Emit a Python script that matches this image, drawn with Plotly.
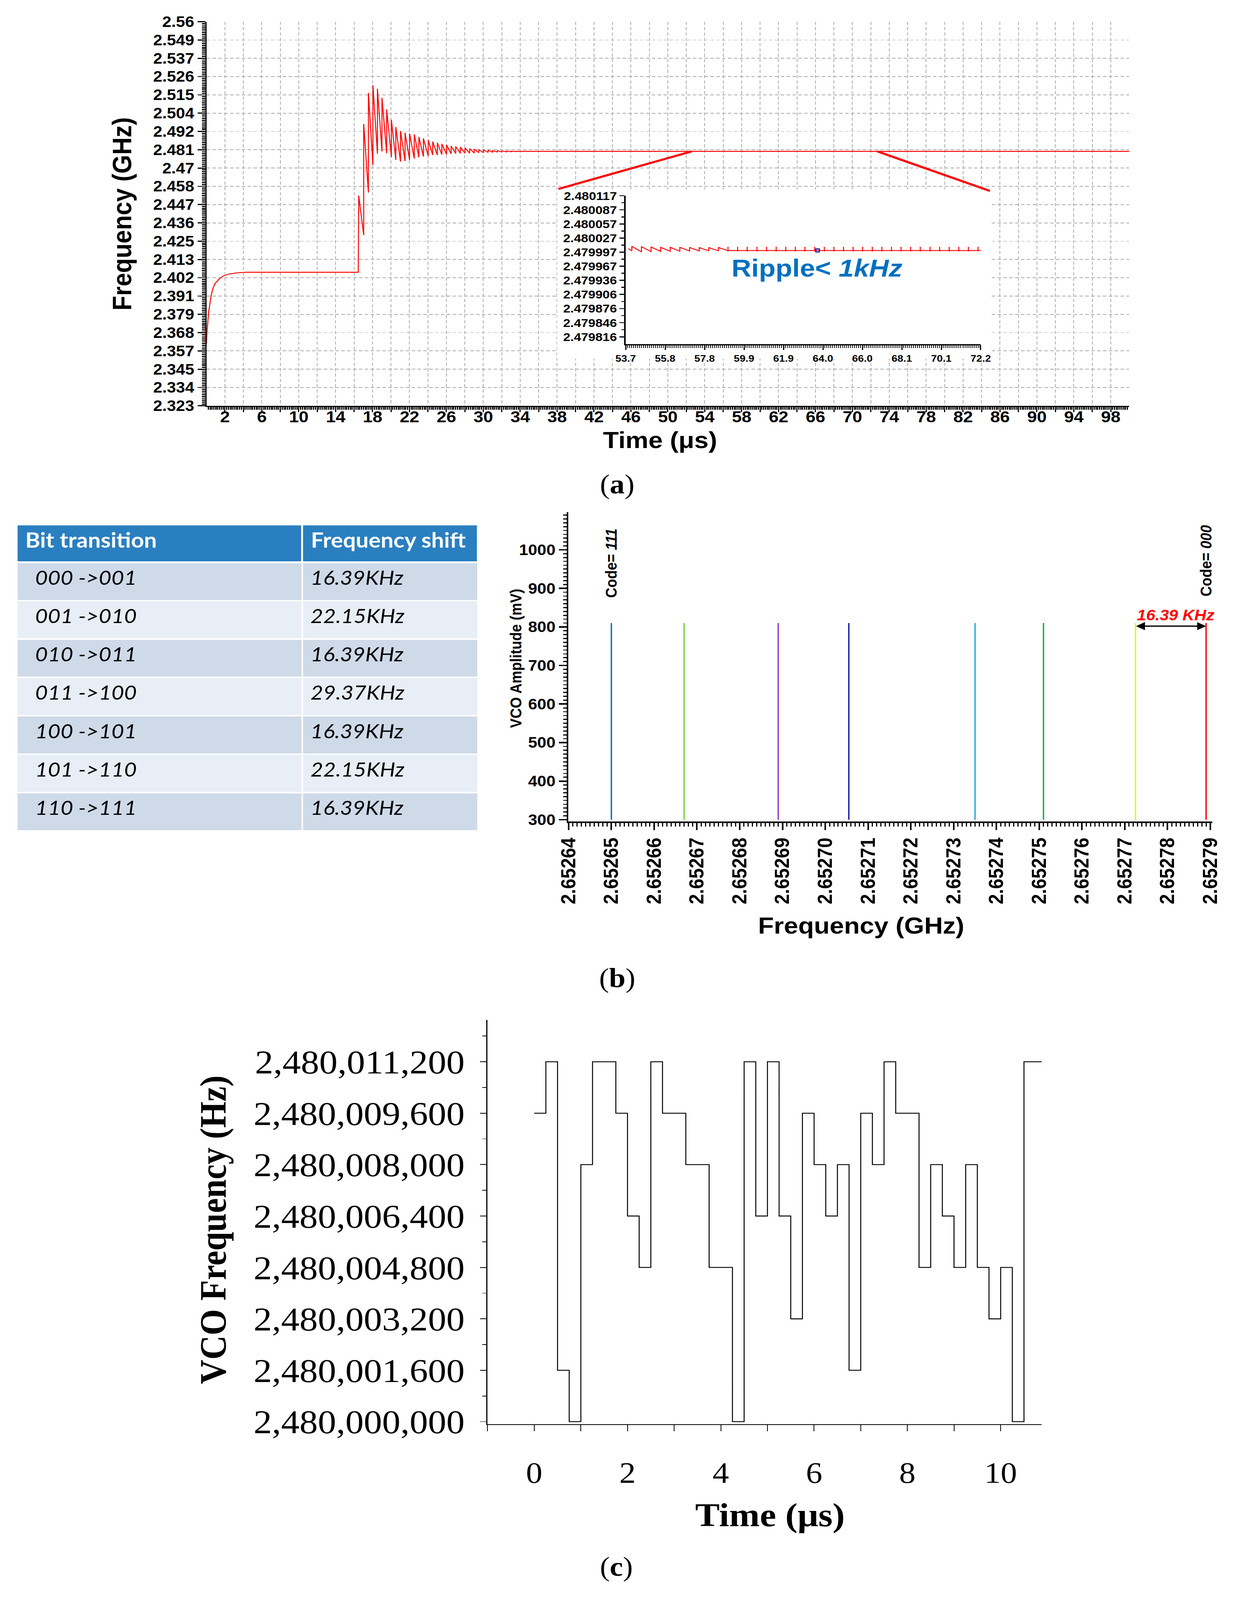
import plotly.graph_objects as go

W, H = 3157, 4503

# ------------------------------------------------------------------ (a) main transient
rise_t = [0.0, 0.03, 0.07, 0.12, 0.16, 0.23, 0.31, 0.52, 0.73, 0.95, 1.37, 1.79, 2.43, 3.27, 4.32, 16.45]
rise_f = [2.3616, 2.3669, 2.3698, 2.3730, 2.3760, 2.3807, 2.3835, 2.3914, 2.3959, 2.3986,
          2.4012, 2.4030, 2.4043, 2.4050, 2.4054, 2.4054]
tooth_t = [16.50, 17.04, 17.55, 18.04, 18.53, 19.02, 19.53, 20.04, 20.52, 21.03, 21.52, 22.01,
           22.52, 23.02, 23.51, 24.03, 24.52, 25.02, 25.51, 26.02, 26.52, 27.01, 27.52, 28.01,
           28.52, 29.02, 29.52, 30.02, 30.52, 31.01, 31.52, 32.01, 32.52, 33.02]
tooth_peak = [2.4527, 2.4969, 2.5161, 2.5208, 2.5186, 2.5130, 2.5059, 2.4995, 2.4950, 2.4926,
              2.4915, 2.4910, 2.4905, 2.4889, 2.4880, 2.4869, 2.4860, 2.4853, 2.4846, 2.4840,
              2.4833, 2.4830, 2.4826, 2.4821, 2.4817, 2.4814, 2.4811, 2.4809, 2.4807, 2.4805,
              2.4804, 2.4803, 2.4802, 2.4801]
tooth_trough = [2.4283, 2.4546, 2.4715, 2.4785, 2.4799, 2.4788, 2.4765, 2.4747, 2.4737, 2.4740,
                2.4747, 2.4756, 2.4763, 2.4768, 2.4772, 2.4777, 2.4777, 2.4780, 2.4781, 2.4785,
                2.4787, 2.4788, 2.4788, 2.4789, 2.4790, 2.4792, 2.4792, 2.4794, 2.4795, 2.4796,
                2.4797, 2.4797, 2.4798, 2.4799]
tail_t = [33.52, 100.0]
tail_f = [2.4800, 2.4800]

link_left_t = [38.14, 52.6]
link_left_f = [2.4568, 2.4800]
link_right_t = [72.7, 84.9]
link_right_f = [2.4800, 2.4556]

a_y_labels = ["2.323", "2.334", "2.345", "2.357", "2.368", "2.379", "2.391", "2.402", "2.413",
              "2.425", "2.436", "2.447", "2.458", "2.47", "2.481", "2.492", "2.504", "2.515",
              "2.526", "2.537", "2.549", "2.56"]
a_x_labels = ["2", "6", "10", "14", "18", "22", "26", "30", "34", "38", "42", "46", "50", "54",
              "58", "62", "66", "70", "74", "78", "82", "86", "90", "94", "98"]

# ------------------------------------------------------------------ (a) inset ripple
ins_start_t = [53.84, 54.02]
ins_start_f = [2.4800040, 2.4799995]
ins_tooth_t = [54.02, 54.52, 55.02, 55.52, 56.02, 56.52, 57.03, 57.53, 58.03, 58.53, 59.03, 59.53,
               60.03, 60.54, 61.04, 61.54, 62.04, 62.54, 63.04, 63.55, 64.05, 64.55, 65.05, 65.55,
               66.05, 66.55, 67.05, 67.55, 68.05, 68.55, 69.05, 69.56, 70.06, 70.56, 71.06, 71.56,
               72.06]
ins_peak = [2.4800089, 2.4800082, 2.4800077, 2.4800069, 2.4800069, 2.4800069, 2.4800064,
            2.4800062, 2.4800062, 2.4800064] + [2.4800080] * 27
ins_trough = [2.4799972, 2.4799977, 2.4799982, 2.4799985, 2.4799987, 2.4799990, 2.4799992,
              2.4799995, 2.4799995, 2.4799997] + [2.4799982] * 27
ins_base = 2.4800000
ins_end_t = 72.2
ins_saw_count = 10
ins_marker_t = [63.7]
ins_marker_f = [2.4800002]
ins_y_labels = ["2.479816", "2.479846", "2.479876", "2.479906", "2.479936", "2.479967",
                "2.479997", "2.480027", "2.480057", "2.480087", "2.480117"]
ins_x_labels = ["53.7", "55.8", "57.8", "59.9", "61.9", "64.0", "66.0", "68.1", "70.1", "72.2"]

# ------------------------------------------------------------------ (b) table
bit_transitions = ["000 ->001", "001 ->010", "010 ->011", "011 ->100", "100 ->101", "101 ->110", "110 ->111"]
freq_shifts = ["16.39KHz", "22.15KHz", "16.39KHz", "29.37KHz", "16.39KHz", "22.15KHz", "16.39KHz"]
table_header = ["Bit transition", "Frequency shift"]

# ------------------------------------------------------------------ (b) spectrum
spec_freq = [2.65265, 2.652667, 2.652689, 2.6527055, 2.652735, 2.652751, 2.6527725, 2.652789]
spec_amp = [810, 810, 810, 810, 810, 810, 810, 810]
spec_base = 300
spec_colors = ["#0070C0", "#78CE3E", "#8A3EC6", "#1A1A9E", "#20AAD4", "#00B050", "#F2F200", "#FF0000"]

# ------------------------------------------------------------------ (c) VCO steps
vco_t = [0.00, 0.25, 0.50, 0.75, 1.00, 1.25, 1.50, 1.75, 2.00, 2.25, 2.50, 2.75, 3.00, 3.25,
         3.50, 3.75, 4.00, 4.25, 4.50, 4.75, 5.00, 5.25, 5.50, 5.75, 6.00, 6.25, 6.50, 6.75,
         7.00, 7.25, 7.50, 7.75, 8.00, 8.25, 8.50, 8.75, 9.00, 9.25, 9.50, 9.75, 10.00, 10.25,
         10.50, 10.88]
vco_hz = [2480009600, 2480011200, 2480001600, 2480000000, 2480008000, 2480011200, 2480011200,
          2480009600, 2480006400, 2480004800, 2480011200, 2480009600, 2480009600, 2480008000,
          2480008000, 2480004800, 2480004800, 2480000000, 2480011200, 2480006400, 2480011200,
          2480006400, 2480003200, 2480009600, 2480008000, 2480006400, 2480008000, 2480001600,
          2480009600, 2480008000, 2480011200, 2480009600, 2480009600, 2480004800, 2480008000,
          2480006400, 2480004800, 2480008000, 2480004800, 2480003200, 2480004800, 2480000000,
          2480011200, 2480011200]
vco_ticks = [2480000000, 2480001600, 2480003200, 2480004800, 2480006400, 2480008000,
             2480009600, 2480011200]

# ================================================================== helpers
def px(x):
    return x / W


def py(y):
    return 1 - y / H


SANS = "Liberation Sans"
SERIF = "Liberation Serif"
GRID = "#ABABAB"

fig = go.Figure()

# ---- (a) main curve
main_t = list(rise_t)
main_f = list(rise_f)
for k, t in enumerate(tooth_t):
    nxt = tooth_t[k + 1] if k + 1 < len(tooth_t) else tail_t[0]
    main_t += [t, nxt]
    main_f += [tooth_peak[k], tooth_trough[k]]
main_t += tail_t
main_f += tail_f
fig.add_trace(go.Scatter(x=main_t, y=main_f, mode="lines", line=dict(color="#FF0000", width=2.5),
                         xaxis="x", yaxis="y", showlegend=False, hoverinfo="skip"))
for lt, lf in ((link_left_t, link_left_f), (link_right_t, link_right_f)):
    fig.add_trace(go.Scatter(x=lt, y=lf, mode="lines", line=dict(color="#FF0000", width=6),
                             xaxis="x", yaxis="y", showlegend=False, hoverinfo="skip"))

# ---- (a) inset
it = list(ins_start_t)
iff = list(ins_start_f)
for k, t in enumerate(ins_tooth_t):
    nxt = ins_tooth_t[k + 1] if k + 1 < len(ins_tooth_t) else ins_end_t
    if k < ins_saw_count:
        it += [t, t, nxt]
        iff += [iff[-1], ins_peak[k], ins_trough[k]]
    else:
        it += [t, t, t, t + 0.03, nxt]
        iff += [ins_peak[k], ins_trough[k], ins_base, ins_base, ins_base]
fig.add_trace(go.Scatter(x=it, y=iff, mode="lines", line=dict(color="#FF0000", width=2.5),
                         xaxis="x2", yaxis="y2", showlegend=False, hoverinfo="skip"))
fig.add_trace(go.Scatter(x=ins_marker_t, y=ins_marker_f, mode="markers",
                         marker=dict(symbol="square-open", size=9, color="#1F1FA0", line=dict(width=3)),
                         xaxis="x2", yaxis="y2", showlegend=False, hoverinfo="skip"))

# ---- (b) table
row_fill = ["#CFDAE9" if i % 2 == 0 else "#E8EEF6" for i in range(len(bit_transitions))]
fig.add_trace(go.Table(
    domain=dict(x=[px(14), px(1216)], y=[py(2350), py(1476)]),
    columnwidth=[741, 456],
    header=dict(values=["<b>\u00a0" + table_header[0] + "</b>", "<b>\u00a0" + table_header[1] + "</b>"],
                fill_color="#2A7FC0", align="left", height=106,
                line=dict(color="white", width=5),
                font=dict(family="Lato", size=58, color="white")),
    cells=dict(values=[["<i>\u00a0\u00a0\u00a0" + s + "</i>" for s in bit_transitions],
                       ["<i>\u00a0" + s + "</i>" for s in freq_shifts]],
               fill_color=[row_fill, row_fill], align="left", height=108,
               line=dict(color="white", width=4),
               font=dict(family="Lato", size=56, color="black")),
))

# ---- (b) spectrum
for f, a, c in zip(spec_freq, spec_amp, spec_colors):
    fig.add_trace(go.Scatter(x=[f, f], y=[spec_base, a], mode="lines", line=dict(color=c, width=3.5),
                             xaxis="x3", yaxis="y3", showlegend=False, hoverinfo="skip"))

# ---- (c) VCO steps
fig.add_trace(go.Scatter(x=vco_t, y=vco_hz, mode="lines", line=dict(color="black", width=2.5, shape="hv"),
                         xaxis="x4", yaxis="y4", showlegend=False, hoverinfo="skip"))

# ================================================================== axes
a_y_step = (2.56 - 2.323) / 21
a_y_vals = [2.323 + i * a_y_step for i in range(22)]
a_y_minor = [2.323 + j * a_y_step / 10 for j in range(211) if j % 10]
a_x_vals = [2 * i for i in range(1, 50)]
a_x_text = [a_x_labels[(i - 1) // 2] if i % 2 == 1 else "" for i in range(1, 50)]
a_x_minor = [0.2 * j for j in range(1, 500) if j % 10]

ins_y_vals = [2.479816 + i * (2.480117 - 2.479816) / 10 for i in range(11)]
ins_y_minor = [v + (2.480117 - 2.479816) / 20 for v in ins_y_vals[:-1]]
ins_x_vals = [53.7 + i * (72.2 - 53.7) / 9 for i in range(10)]
ins_x_minor = [53.7 + j * (72.2 - 53.7) / 180 for j in range(181) if j % 20]

axis_common = dict(showline=True, linecolor="black", zeroline=False, tickcolor="black")

fig.update_layout(
    width=W, height=H, margin=dict(l=0, r=0, t=0, b=0),
    paper_bgcolor="white", plot_bgcolor="white", showlegend=False, hovermode=False,
    xaxis=dict(axis_common, domain=[px(508.5), px(2913)], range=[0, 100], anchor="y",
               tickmode="array", tickvals=a_x_vals, ticktext=a_x_text,
               ticks="outside", ticklen=15, tickwidth=3, linewidth=3, ticklabelstandoff=-26,
               showgrid=True, gridcolor=GRID, gridwidth=2, griddash="9px,6px",
               tickfont=dict(family=SANS, size=45, color="black", weight="bold"),
               minor=dict(tickmode="array", tickvals=a_x_minor, ticks="outside", ticklen=8,
                          tickwidth=2.5, tickcolor="black", showgrid=False)),
    yaxis=dict(axis_common, domain=[py(1136.5), py(38.7)], range=[2.323, 2.56], anchor="x",
               tickmode="array", tickvals=a_y_vals, ticktext=a_y_labels,
               ticks="outside", ticklen=20, tickwidth=3, linewidth=3,
               showgrid=True, gridcolor=GRID, gridwidth=2, griddash="9px,6px",
               tickfont=dict(family=SANS, size=42, color="black", weight="bold"),
               minor=dict(tickmode="array", tickvals=a_y_minor, ticks="outside", ticklen=9,
                          tickwidth=2.5, tickcolor="black", showgrid=False)),
    xaxis2=dict(axis_common, domain=[px(1601), px(2526)], range=[53.7, 72.2], anchor="y2",
                tickmode="array", tickvals=ins_x_vals, ticktext=ins_x_labels,
                ticks="outside", ticklen=14, tickwidth=3, linewidth=3, showgrid=False,
                tickfont=dict(family=SANS, size=27, color="black", weight="bold"),
                minor=dict(tickmode="array", tickvals=ins_x_minor, ticks="outside", ticklen=8,
                           tickwidth=2, tickcolor="black", showgrid=False)),
    yaxis2=dict(axis_common, domain=[py(960), py(536)], range=[2.4798005, 2.480117], anchor="x2",
                tickmode="array", tickvals=ins_y_vals, ticktext=ins_y_labels,
                ticks="outside", ticklen=12, tickwidth=3, linewidth=4, showgrid=False,
                tickfont=dict(family=SANS, size=33, color="black", weight="bold"),
                minor=dict(tickmode="array", tickvals=ins_y_minor, ticks="outside", ticklen=7,
                           tickwidth=2.5, tickcolor="black", showgrid=False)),
    xaxis3=dict(axis_common, domain=[px(1451), px(3130)], range=[2.6526399, 2.6527905], anchor="y3",
                tick0=2.65264, dtick=0.00001, tickformat=".5f", tickangle=-90,
                ticks="outside", ticklen=20, tickwidth=3.5, linewidth=4, showgrid=False,
                tickfont=dict(family=SANS, size=52, color="black", weight="bold"),
                minor=dict(tick0=2.65264, dtick=0.000001, ticks="outside", ticklen=10,
                           tickwidth=3, tickcolor="black", showgrid=False)),
    yaxis3=dict(axis_common, domain=[py(2325), py(1440)], range=[295, 1098], anchor="x3",
                tick0=0, dtick=100, ticks="outside", ticklen=20, tickwidth=3.5, linewidth=4,
                showgrid=False,
                tickfont=dict(family=SANS, size=42, color="black", weight="bold"),
                minor=dict(tick0=0, dtick=10, ticks="outside", ticklen=9, tickwidth=3,
                           tickcolor="black", showgrid=False)),
    xaxis4=dict(axis_common, domain=[px(1241), px(2685)], range=[-1, 10.88], anchor="y4",
                tick0=0, dtick=2, ticks="outside", ticklen=17, tickwidth=2, linewidth=2.5,
                showgrid=False, ticklabelstandoff=45,
                tickfont=dict(family=SERIF, size=84, color="black"),
                minor=dict(tick0=-1, dtick=1, ticks="outside", ticklen=17, tickwidth=2,
                           tickcolor="black", showgrid=False)),
    yaxis4=dict(axis_common, domain=[py(4047), py(2892)], range=[2479999924, 2480012500], anchor="x4",
                tickmode="array", tickvals=vco_ticks, tickformat=",d",
                ticks="outside", ticklen=17, tickwidth=2, linewidth=2.5, showgrid=False,
                ticklabelstandoff=20,
                tickfont=dict(family=SERIF, size=94, color="black"),
                minor=dict(tick0=2480000000, dtick=800, ticks="outside", ticklen=11, tickwidth=2,
                           tickcolor="black", showgrid=False)),
)

# white backdrop behind the inset (between grid and traces)
fig.add_shape(type="rect", xref="x", yref="y", x0=38.0, x1=85.1, y0=2.352, y1=2.4565,
              fillcolor="white", line=dict(width=0), layer="between")

# ================================================================== text
def note(text, x, y, size, family=SANS, color="black", angle=0, xanchor="center", yanchor="middle"):
    fig.add_annotation(text=text, x=px(x), y=py(y), xref="paper", yref="paper", showarrow=False,
                       textangle=angle, xanchor=xanchor, yanchor=yanchor,
                       font=dict(family=family, size=size, color=color))

# (a)
note("<b>Frequency (GHz)</b>", 288, 588, 68, angle=-90)
note("<b>Time (μs)</b>", 1690, 1234, 66)
note("<b>Ripple< <i>1kHz</i></b>", 2100, 742, 70, color="#0070C0")
note("(<b>a</b>)", 1579, 1360, 76, family=SERIF)
# (b)
note("<b>VCO Amplitude (mV)</b>", 1314, 1858, 40, angle=-90)
note("<b>Frequency (GHz)</b>", 2215, 2622, 66)
note("(<b>b</b>)", 1579, 2772, 76, family=SERIF)
# (c)
note("<b>VCO Frequency (Hz)</b>", 526, 3491, 95, family=SERIF, angle=-90)
note("<b>Time (μs)</b>", 1977, 4306, 94, family=SERIF)
note("(<b>c</b>)", 1576, 4455, 76, family=SERIF)

# spectrum labels
fig.add_annotation(text="<b>Code= <i>111</i></b>", x=spec_freq[0], y=965, xref="x3", yref="y3",
                   showarrow=False, textangle=-90, font=dict(family=SANS, size=40, color="black"))
fig.add_annotation(text="<b>Code= <i>000</i></b>", x=spec_freq[-1], y=971, xref="x3", yref="y3",
                   showarrow=False, textangle=-90, font=dict(family=SANS, size=40, color="black"))
fig.add_annotation(text="<b><i>16.39 KHz</i></b>", x=2.6527819, y=830, xref="x3", yref="y3",
                   showarrow=False, font=dict(family=SANS, size=42, color="#FF0000"))
fig.add_annotation(text="", x=spec_freq[-1], y=802, ax=spec_freq[-2], ay=802,
                   xref="x3", yref="y3", axref="x3", ayref="y3",
                   showarrow=True, arrowhead=2, arrowside="end+start", arrowsize=1.3,
                   arrowwidth=3.5, arrowcolor="black")

# keep the whole 3157x4503 figure inside whatever viewport the page gets
fit_script = """
(function(){
  var d = document.getElementById('{plot_id}');
  document.documentElement.style.margin = '0';
  document.body.style.margin = '0';
  document.documentElement.style.overflow = 'hidden';
  document.body.style.overflow = 'hidden';
  var sx = window.innerWidth / %d, sy = window.innerHeight / %d;
  if (sx > 0.2 && sy > 0.2 && (Math.abs(sx - 1) > 0.002 || Math.abs(sy - 1) > 0.002)) {
    d.style.transformOrigin = '0 0';
    d.style.transform = 'scale(' + sx + ',' + sy + ')';
  }
})();
""" % (W, H)

fig.write_html("out.html", post_script=fit_script, config={"displayModeBar": False})
